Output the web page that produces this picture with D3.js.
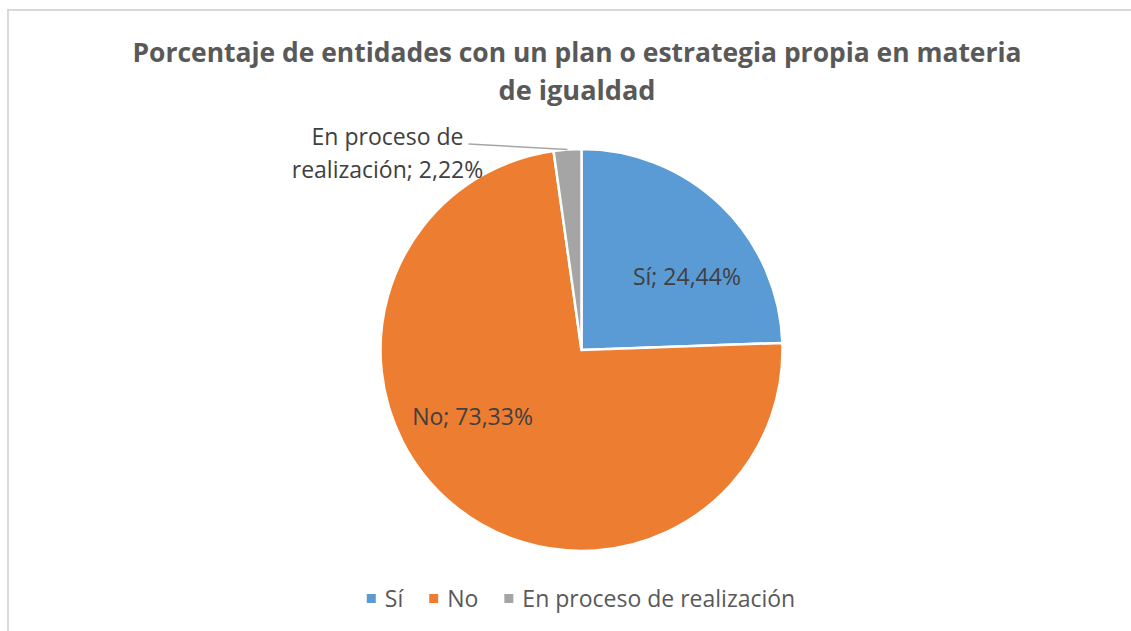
<!DOCTYPE html>
<html>
<head>
<meta charset="utf-8">
<script src="https://cdn.jsdelivr.net/npm/d3@7"></script>
<style>
  body { margin: 0; background: #fff; }
  svg { display: block; }
</style>
</head>
<body>
<div id="chart"></div>
<script>
// data
const categories = ["Sí", "No", "En proceso de realización"];
const values = [24.44, 73.33, 2.22];
const labelTexts = ["Sí; 24,44%", "No; 73,33%", "realización; 2,22%"];
const titleLines = ["Porcentaje de entidades con un plan o estrategia propia en materia", "de igualdad"];

const width = 1131;
const height = 631;
const colors = ["#5B9BD5", "#ED7D31", "#A5A5A5"];
const font = "'Open Sans', 'Noto Sans', sans-serif";

const svg = d3.select("#chart")
    .append("svg")
    .attr("width", width)
    .attr("height", height);

// chart area border (runs off the right and bottom)
svg.append("rect")
    .attr("x", 8)
    .attr("y", 10)
    .attr("width", width + 20)
    .attr("height", height + 20)
    .attr("fill", "#fff")
    .attr("stroke", "#d9d9d9")
    .attr("stroke-width", 2);

// title
svg.append("g")
    .selectAll("text")
    .data(titleLines)
    .enter()
    .append("text")
    .attr("x", 577)
    .attr("y", (d, i) => 62 + i * 38)
    .attr("text-anchor", "middle")
    .attr("font-family", font)
    .attr("font-weight", "bold")
    .attr("font-size", 26)
    .attr("fill", "#595959")
    .attr("textLength", (d, i) => i === 0 ? 889 : 157)
    .attr("lengthAdjust", "spacingAndGlyphs")
    .text(d => d);

// pie
const cx = 581.5, cy = 350, r = 201;
const pie = d3.pie().sort(null).value(d => d.value);
const arcs = pie(categories.map((c, i) => ({ name: c, value: values[i], label: labelTexts[i] })));
const arc = d3.arc().innerRadius(0).outerRadius(r);

const g = svg.append("g").attr("transform", `translate(${cx},${cy})`);

g.selectAll("path")
    .data(arcs)
    .enter()
    .append("path")
    .attr("d", arc)
    .attr("fill", (d, i) => colors[i])
    .attr("stroke", "#fff")
    .attr("stroke-width", 2.5)
    .attr("stroke-linejoin", "round");

// inside labels (best fit nudges, like excel)
const labelArc = d3.arc().innerRadius(128).outerRadius(128);
const angleNudge = [0.2, 0.32];
arcs.slice(0, 2).forEach((d, i) => {
    const mid = (d.startAngle + d.endAngle) / 2 + angleNudge[i];
    const p = labelArc.centroid({ startAngle: mid, endAngle: mid });
    g.append("text")
        .attr("x", p[0])
        .attr("y", p[1])
        .attr("dy", "0.35em")
        .attr("text-anchor", "middle")
        .attr("font-family", font)
        .attr("font-size", 23)
        .attr("fill", "#404040")
        .text(d.data.label);
});

// outside label with leader line for the small slice
const small = arcs[2];
const midSmall = (small.startAngle + small.endAngle) / 2;
const edge = d3.arc().innerRadius(r).outerRadius(r).centroid({ startAngle: midSmall, endAngle: midSmall });
g.append("polyline")
    .attr("points", [edge, [-113, -206]].map(p => p.join(",")).join(" "))
    .attr("fill", "none")
    .attr("stroke", "#a6a6a6")
    .attr("stroke-width", 1.5);

const outLabel = g.append("text")
    .attr("x", -194)
    .attr("y", -205)
    .attr("text-anchor", "middle")
    .attr("font-family", font)
    .attr("font-size", 23)
    .attr("fill", "#404040");
outLabel.append("tspan").attr("x", -194).attr("dy", 0).text("En proceso de");
outLabel.append("tspan").attr("x", -194).attr("dy", 33).text(small.data.label);

// legend
const legend = svg.append("g").attr("transform", "translate(0,599)");
const items = legend.selectAll("g")
    .data(categories)
    .enter()
    .append("g");
items.append("rect")
    .attr("width", 9)
    .attr("height", 9)
    .attr("y", -5)
    .attr("fill", (d, i) => colors[i]);
items.append("text")
    .attr("x", 18)
    .attr("dy", "0.35em")
    .attr("font-family", font)
    .attr("font-size", 23)
    .attr("fill", "#595959")
    .text(d => d);

let xPos = 0;
const gap = 26;
const offsets = [];
items.each(function() {
    const w = this.querySelector("text").getComputedTextLength() + 18;
    offsets.push(xPos);
    xPos += w + gap;
});
const totalW = xPos - gap;
const startX = 581 - totalW / 2;
items.attr("transform", (d, i) => `translate(${startX + offsets[i]},0)`);
</script>
</body>
</html>
